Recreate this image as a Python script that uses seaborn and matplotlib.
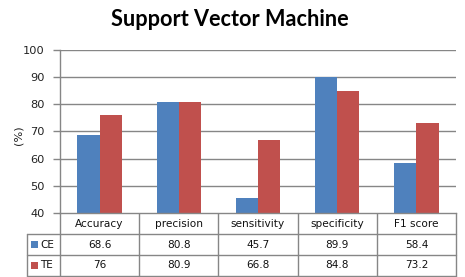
import matplotlib
matplotlib.use("Agg")
import matplotlib.pyplot as plt
import seaborn as sns
import pandas as pd
from matplotlib.lines import Line2D
from matplotlib.patches import Rectangle

categories = ["Accuracy", "precision", "sensitivity", "specificity", "F1 score"]
series_names = ["CE", "TE"]
ce_values = [68.6, 80.8, 45.7, 89.9, 58.4]
te_values = [76, 80.9, 66.8, 84.8, 73.2]
ce_labels = ["68.6", "80.8", "45.7", "89.9", "58.4"]
te_labels = ["76", "80.9", "66.8", "84.8", "73.2"]
yticks = [40, 50, 60, 70, 80, 90, 100]
title = "Support Vector Machine"
ylabel = "(%)"

colors = ["#4F81BD", "#C0504D"]
grid_col = "#868686"

df = pd.DataFrame({
    "metric": categories * 2,
    "series": [series_names[0]] * len(categories) + [series_names[1]] * len(categories),
    "value": ce_values + te_values,
})

sns.set_theme(style="white")
plt.rcParams["font.family"] = ["DejaVu Sans"]

W, H = 465, 277
fig = plt.figure(figsize=(W / 100, H / 100), dpi=100)

L, R, T, B = 60, 456, 50, 213
ax = fig.add_axes([L / W, (H - B) / H, (R - L) / W, (B - T) / H])
sns.barplot(data=df, x="metric", y="value", hue="series", order=categories,
            hue_order=series_names, palette=colors, saturation=1, width=0.56,
            gap=0, edgecolor="none", linewidth=0, ax=ax, legend=False)
ax.set_ylim(40, 100)
ax.set_xlim(-0.5, len(categories) - 0.5)
ax.set_yticks(yticks)
ax.set_yticklabels([str(t) for t in yticks], fontsize=8.2, color="#222222")
ax.set_xticks([])
ax.set_xlabel("")
ax.set_ylabel("")
for y in yticks[1:]:
    ax.axhline(y, color=grid_col, lw=1.0, zorder=0)
ax.set_axisbelow(True)
for s in ["top", "right"]:
    ax.spines[s].set_visible(False)
ax.spines["left"].set_color(grid_col)
ax.spines["bottom"].set_color(grid_col)
ax.spines["left"].set_linewidth(1.0)
ax.spines["bottom"].set_linewidth(1.0)
ax.tick_params(axis="y", left=True, length=5, width=1.0, color=grid_col, pad=6)

fig.text(18 / W, 1 - 135 / H, ylabel, rotation=90, ha="center", va="center",
         fontsize=8.2, color="#222222")

fig.text(230 / W, 1 - 20 / H, title, ha="center", va="center",
         fontsize=15.6, fontweight="bold", family="Lato", color="#000000")

# table overlay
tab = fig.add_axes([0, 0, 1, 1], zorder=-1)
tab.set_xlim(0, W)
tab.set_ylim(H, 0)
tab.axis("off")
rows = [B, 233.5, 254.5, 275.5]
x_left = 27
cw = (R - L) / len(categories)
col_edges = [L + i * cw for i in range(len(categories) + 1)]
lw = 1.0
for y in rows[1:]:
    tab.add_line(Line2D([x_left, R], [y, y], color=grid_col, lw=lw))
for i, x in enumerate(col_edges):
    tab.add_line(Line2D([x, x], [rows[0], rows[-1]], color=grid_col, lw=lw))
tab.add_line(Line2D([x_left, x_left], [rows[1], rows[-1]], color=grid_col, lw=lw))

fs = 7.6
for i, c in enumerate(categories):
    cx = (col_edges[i] + col_edges[i + 1]) / 2
    tab.text(cx, (rows[0] + rows[1]) / 2 + 0.5, c, ha="center", va="center", fontsize=fs, color="#111111")
    tab.text(cx, (rows[1] + rows[2]) / 2 + 0.5, ce_labels[i], ha="center", va="center", fontsize=fs, color="#111111")
    tab.text(cx, (rows[2] + rows[3]) / 2 + 0.5, te_labels[i], ha="center", va="center", fontsize=fs, color="#111111")

for j, name in enumerate(series_names):
    yc = (rows[j + 1] + rows[j + 2]) / 2
    tab.add_patch(Rectangle((31, yc - 3.5), 7, 7, color=colors[j], lw=0))
    tab.text(40, yc + 0.5, name, ha="left", va="center", fontsize=fs, color="#111111")

fig.savefig("out.png", dpi=100)
